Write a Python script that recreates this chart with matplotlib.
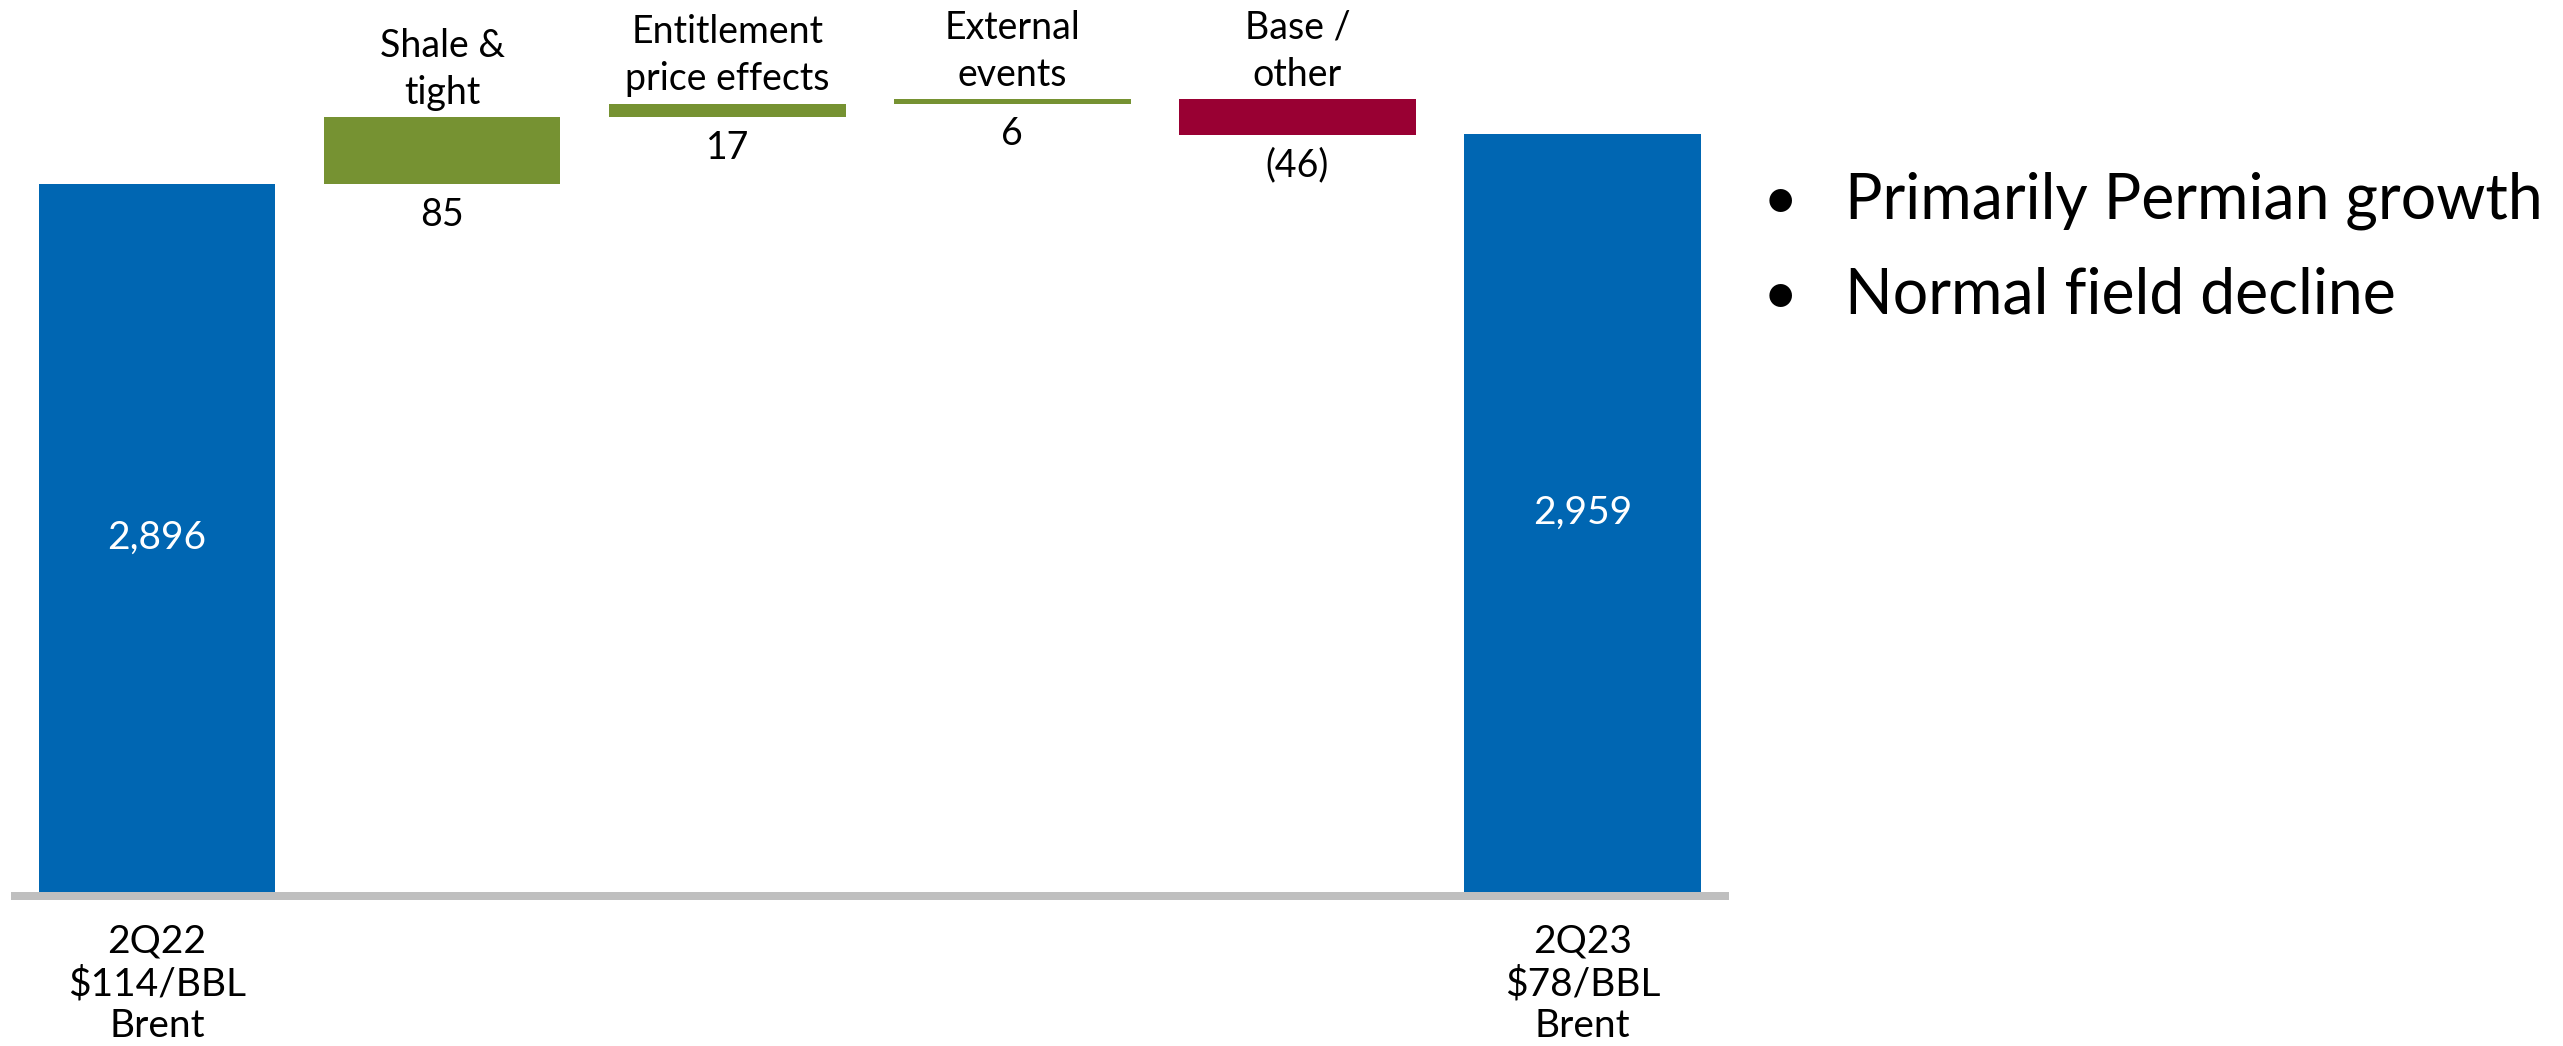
import matplotlib
matplotlib.use("Agg")
import matplotlib.pyplot as plt

# ---- data ----
categories = ["2Q22", "Shale &\ntight", "Entitlement\nprice effects", "External\nevents", "Base /\nother", "2Q23"]
start_total = 2896
end_total = 2959
changes = [85, 17, 6, -46]
change_labels = ["85", "17", "6", "(46)"]
total_labels = ["2,896", "2,959"]
bottom_labels = ["2Q22\n$114/BBL\nBrent", "2Q23\n$78/BBL\nBrent"]
bullets = ["Primarily Permian growth", "Normal field decline"]
axis_floor = 2000

# ---- styling ----
BLUE = "#0066B2"
GREEN = "#769232"
RED = "#990033"
GRAY = "#BFBFBF"
FONT = ["Lato", "DejaVu Sans"]
plt.rcParams['font.family'] = FONT

W, H = 2563, 1046
fig = plt.figure(figsize=(W / 100, H / 100), dpi=100)
ax = fig.add_axes([14.5 / W, 154 / H, (1725 - 14.5) / W, 842 / H])
ax.set_xlim(-0.5, 5.5)
ax.set_ylim(axis_floor, axis_floor + 842 / 0.79)

width = 0.83
# totals
ax.bar(0, start_total - axis_floor, bottom=axis_floor, width=width, color=BLUE, zorder=3)
ax.bar(5, end_total - axis_floor, bottom=axis_floor, width=width, color=BLUE, zorder=3)

running = start_total
for i, (c, lab) in enumerate(zip(changes, change_labels), start=1):
    lo, hi = (running, running + c) if c >= 0 else (running + c, running)
    color = GREEN if c >= 0 else RED
    ax.bar(i, hi - lo, bottom=lo, width=width, color=color, zorder=3)
    # category label above
    ax.annotate(categories[i], (i, hi), xytext=(0, 4.5), textcoords="offset points",
                ha="center", va="bottom", fontsize=27, linespacing=1.38, color="black")
    # value label below
    ax.annotate(lab, (i, lo), xytext=(0, -9), textcoords="offset points",
                ha="center", va="top", fontsize=27, color="black")
    running += c

# totals inner labels
for x, tot, lab in [(0, start_total, total_labels[0]), (5, end_total, total_labels[1])]:
    ax.text(x, (axis_floor + tot) / 2, lab, ha="center", va="center",
            fontsize=28, color="white", zorder=4)

for x, lab in [(0, bottom_labels[0]), (5, bottom_labels[1])]:
    ax.annotate(lab, (x, axis_floor), xytext=(0, -23), textcoords="offset points",
                ha="center", va="top", fontsize=28, linespacing=1.2, color="black",
                annotation_clip=False)

for s in ["top", "right", "left"]:
    ax.spines[s].set_visible(False)
ax.spines["bottom"].set_color(GRAY)
ax.spines["bottom"].set_linewidth(8 * 0.72)
ax.spines["bottom"].set_position(("outward", 4 * 0.72))
ax.spines["bottom"].set_zorder(1)
ax.set_xticks([])
ax.set_yticks([])
ax.patch.set_alpha(0)

# bullets
for k, txt in enumerate(bullets):
    yb = 1 - (219 + 95 * k) / H
    fig.text(1780 / W, yb, "\u2022", ha="center", va="baseline", fontsize=44, color="black")
    fig.text(1845 / W, yb, txt, ha="left", va="baseline", fontsize=45, color="black")

fig.savefig("out.png", dpi=100, facecolor="white")
